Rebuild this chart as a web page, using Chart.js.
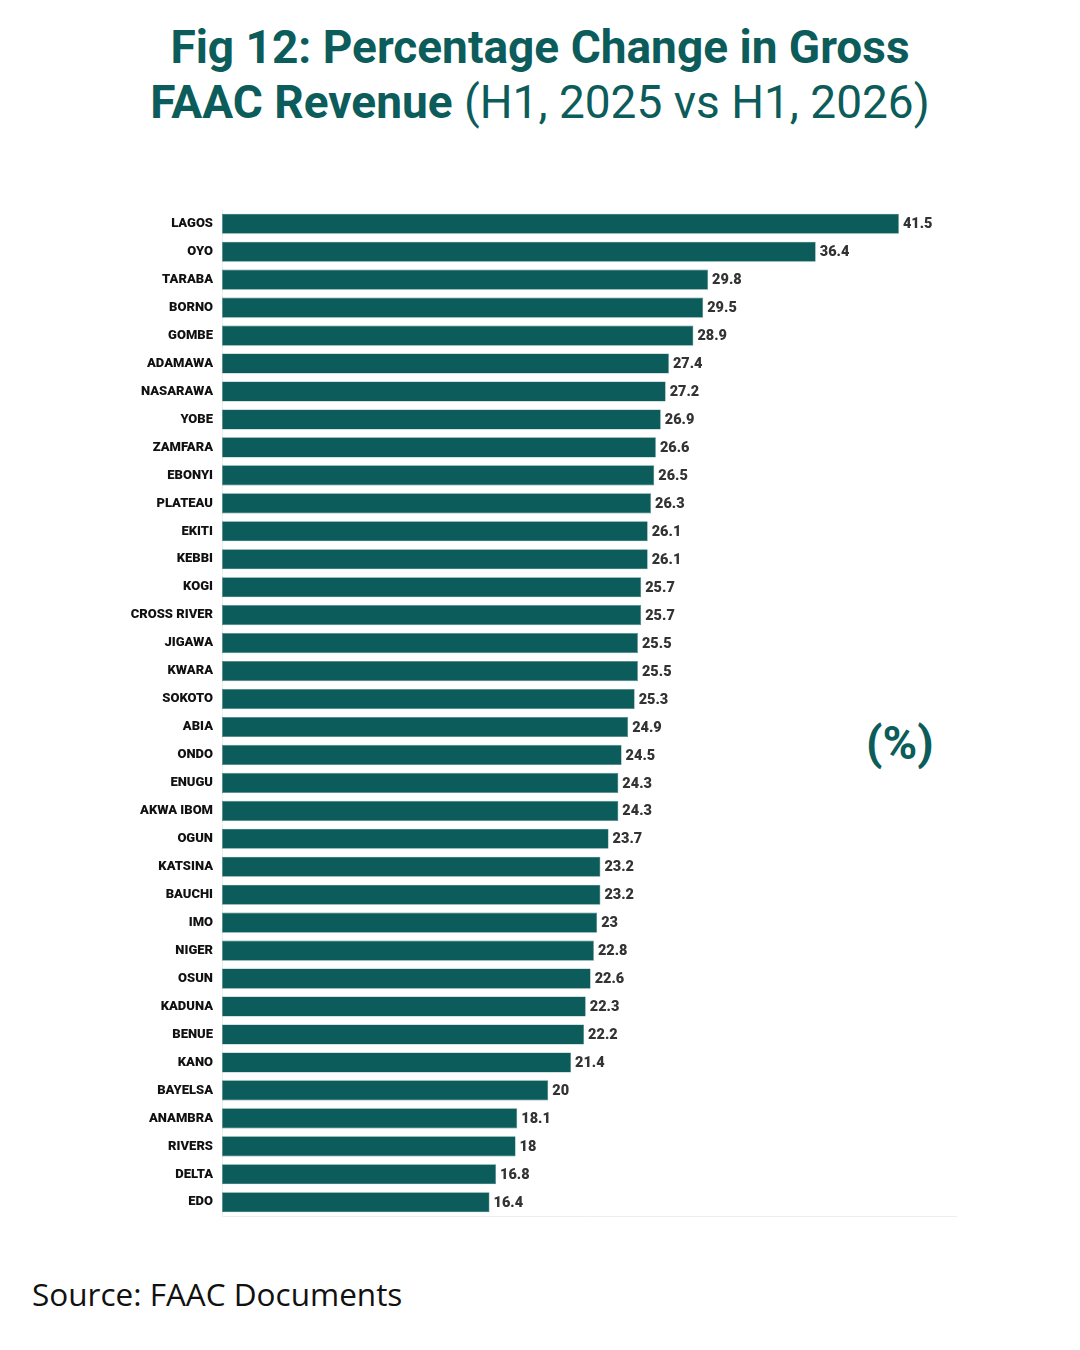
<!DOCTYPE html>
<html>
<head>
<meta charset="utf-8">
<script src="https://cdn.jsdelivr.net/npm/chart.js@4.4.1/dist/chart.umd.min.js"></script>
<style>
  html, body { margin: 0; padding: 0; background: #fff; }
  body { width: 1080px; height: 1350px; position: relative; overflow: hidden; font-family: Roboto, sans-serif; }
  #title { position: absolute; left: 0; top: 20px; width: 1080px; text-align: center; color: #0b5c5a;
           font-size: 46px; line-height: 55px; font-weight: 700; letter-spacing: 0px; }
  #title .light { font-weight: 400; }
  #unit { position: absolute; left: 866px; top: 713px; color: #0b5c5a; font-size: 47px; font-weight: 700; line-height: 60px; }
  #source { position: absolute; left: 32px; top: 1272px; font-family: "Open Sans", sans-serif; font-size: 31.5px; color: #111; }
  #wrap { position: absolute; left: 20px; top: 196px; width: 960px; height: 1034px; }
</style>
</head>
<body>
<div id="title">Fig 12: Percentage Change in Gross<br>FAAC Revenue <span class="light">(H1, 2025 vs H1, 2026)</span></div>
<div id="unit">(%)</div>
<div id="wrap"><canvas id="chart"></canvas></div>
<div id="source">Source: FAAC Documents</div>
<script>
const states = ['LAGOS', 'OYO', 'TARABA', 'BORNO', 'GOMBE', 'ADAMAWA', 'NASARAWA', 'YOBE', 'ZAMFARA', 'EBONYI',
    'PLATEAU', 'EKITI', 'KEBBI', 'KOGI', 'CROSS RIVER', 'JIGAWA', 'KWARA', 'SOKOTO', 'ABIA', 'ONDO',
    'ENUGU', 'AKWA IBOM', 'OGUN', 'KATSINA', 'BAUCHI', 'IMO', 'NIGER', 'OSUN', 'KADUNA', 'BENUE',
    'KANO', 'BAYELSA', 'ANAMBRA', 'RIVERS', 'DELTA', 'EDO'];
const changePct = [41.5, 36.4, 29.8, 29.5, 28.9, 27.4, 27.2, 26.9, 26.6, 26.5,
    26.3, 26.1, 26.1, 25.7, 25.7, 25.5, 25.5, 25.3, 24.9, 24.5,
    24.3, 24.3, 23.7, 23.2, 23.2, 23, 22.8, 22.6, 22.3, 22.2,
    21.4, 20, 18.1, 18, 16.8, 16.4];
const xMax = 45;

const teal = '#0b5c5a';

// draw the value right after each bar
const valueLabels = {
    id: 'valueLabels',
    afterDatasetsDraw(chart) {
        const ctx = chart.ctx;
        const meta = chart.getDatasetMeta(0);
        ctx.save();
        ctx.font = '900 14.5px Roboto';
        ctx.fillStyle = '#333';
        ctx.textAlign = 'left';
        ctx.textBaseline = 'middle';
        meta.data.forEach((bar, i) => {
            ctx.fillText(String(changePct[i]), bar.x + 4, bar.y + 1);
        });
        ctx.restore();
    }
};

new Chart(document.getElementById('chart'), {
    type: 'bar',
    data: {
        labels: states,
        datasets: [{
            data: changePct,
            backgroundColor: teal,
            borderColor: '#4f8a88',
            borderWidth: 0.6,
            borderSkipped: false,
            barPercentage: 0.72,
            categoryPercentage: 1
        }]
    },
    options: {
        indexAxis: 'y',
        responsive: true,
        maintainAspectRatio: false,
        animation: false,
        layout: { padding: { top: 4, right: 24, bottom: 9, left: 0 } },
        plugins: {
            legend: { display: false },
            tooltip: { enabled: false }
        },
        scales: {
            x: {
                min: 0,
                max: xMax,
                ticks: { display: false },
                grid: { display: false, drawTicks: false },
                border: { display: true, color: '#eeeeee', width: 1 },
                afterFit(scale) { scale.height = 0; }
            },
            y: {
                ticks: {
                    color: '#111',
                    font: { family: 'Roboto', size: 13, weight: '900' },
                    padding: 6
                },
                grid: { display: false, drawTicks: true, tickLength: 3, tickColor: '#eee' },
                border: { display: true, color: '#eeeeee', width: 1 },
                afterFit(scale) { scale.width = 202; }
            }
        }
    },
    plugins: [valueLabels]
});
</script>
</body>
</html>
